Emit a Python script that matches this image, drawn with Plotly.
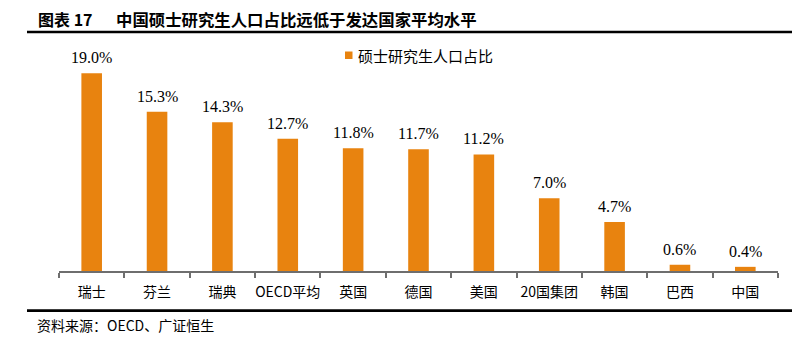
import plotly.graph_objects as go

categories = ["瑞士", "芬兰", "瑞典", "OECD平均", "英国", "德国", "美国", "20国集团", "韩国", "巴西", "中国"]
values = [19.0, 15.3, 14.3, 12.7, 11.8, 11.7, 11.2, 7.0, 4.7, 0.6, 0.4]
series_name = "硕士研究生人口占比"
title_prefix = "图表 17"
title_text = "中国硕士研究生人口占比远低于发达国家平均水平"
source_text = "资料来源：OECD、广证恒生"

W, H = 806, 340
ML, MR, MT, MB = 59, 28, 42, 69
PW, PH = W - ML - MR, H - MT - MB

def px_x(p):  # pixel -> paper x
    return (p - ML) / PW

def px_y(p):  # pixel (from top) -> paper y
    return (H - MB - p) / PH

ORANGE = "#E8830F"
CJK = "Noto Sans CJK SC"

fig = go.Figure()
fig.add_trace(go.Bar(
    x=categories, y=values, name=series_name,
    marker=dict(color=ORANGE, line=dict(width=0)),
    width=0.315, showlegend=False,
))

annotations = []
for c, v in zip(categories, values):
    annotations.append(dict(
        x=c, y=v, xref="x", yref="y", text=f"{v:.1f}%", showarrow=False,
        yanchor="bottom", yshift=5,
        font=dict(family="Liberation Serif", size=16, color="#000000"),
    ))

annotations += [
    dict(x=px_x(36), y=px_y(19), xref="paper", yref="paper", xanchor="left", yanchor="middle",
         text=f"<b>{title_prefix}</b>", showarrow=False,
         font=dict(family=CJK, size=16, color="#000000")),
    dict(x=px_x(114), y=px_y(19), xref="paper", yref="paper", xanchor="left", yanchor="middle",
         text=f"<b>{title_text}</b>", showarrow=False,
         font=dict(family=CJK, size=16.4, color="#000000")),
    dict(x=px_x(356), y=px_y(55), xref="paper", yref="paper", xanchor="left", yanchor="middle",
         text=series_name, showarrow=False,
         font=dict(family=CJK, size=15, color="#000000")),
    dict(x=px_x(35), y=px_y(325), xref="paper", yref="paper", xanchor="left", yanchor="middle",
         text=source_text, showarrow=False,
         font=dict(family=CJK, size=14, color="#000000")),
]

shapes = [
    dict(type="line", xref="paper", yref="paper", x0=px_x(27), x1=px_x(792), y0=px_y(32), y1=px_y(32),
         line=dict(color="#000000", width=2.7)),
    dict(type="line", xref="paper", yref="paper", x0=px_x(27), x1=px_x(792), y0=px_y(310.7), y1=px_y(310.7),
         line=dict(color="#000000", width=2.7)),
    dict(type="rect", xref="paper", yref="paper", x0=px_x(345), x1=px_x(352.5), y0=px_y(59), y1=px_y(51.5),
         fillcolor=ORANGE, line=dict(width=0)),
]

fig.update_layout(
    width=W, height=H,
    margin=dict(l=ML, r=MR, t=MT, b=MB),
    paper_bgcolor="#ffffff", plot_bgcolor="#ffffff",
    annotations=annotations, shapes=shapes,
    bargap=0.5,
    xaxis=dict(
        type="category", range=[-0.5, len(categories) - 0.5],
        showline=True, linecolor="#6e6e6e", linewidth=1.5,
        ticks="outside", tickson="boundaries", ticklen=5, tickcolor="#6e6e6e", tickwidth=1.5,
        showgrid=False, zeroline=False, tickangle=0, ticklabelstandoff=7,
        tickfont=dict(family=CJK, size=14, color="#000000"),
    ),
    yaxis=dict(range=[0, 22], visible=False, showgrid=False, zeroline=False),
)

fig.write_html("out.html")
